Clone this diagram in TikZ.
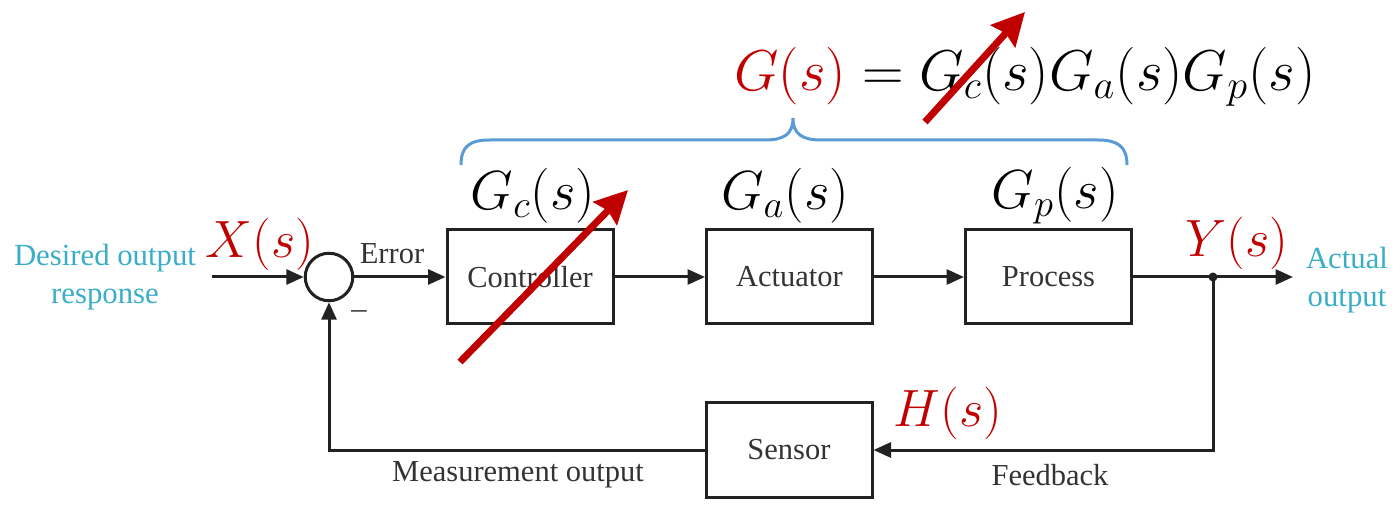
\documentclass[tikz,border=0pt]{standalone}
\usepackage{fix-cm}
\usepackage{fontspec}
\setmainfont{Liberation Serif}
\usetikzlibrary{arrows.meta}
\definecolor{linegray}{HTML}{222222}
\definecolor{textgray}{HTML}{333333}
\definecolor{sigcyan}{HTML}{3AAEC6}
\definecolor{markred}{HTML}{C00000}
\definecolor{bracecol}{HTML}{5B9BD5}
\begin{document}
\begin{tikzpicture}[x=0.4pt,y=-0.4pt,
  wire/.style={draw=linegray,line width=1.2pt},
  tip/.style={-{Triangle[length=7pt,width=6pt]}},
  block/.style={draw=linegray,line width=1.2pt,minimum width=66.4pt,
    minimum height=37.6pt,inner sep=0pt,text=textgray,
    font=\fontsize{12.2}{14}\selectfont},
  plain/.style={text=textgray,inner sep=0pt,font=\fontsize{12.2}{14}\selectfont},
  signal/.style={text=sigcyan,inner sep=0pt,align=center,
    font=\fontsize{12.3}{15}\selectfont},
  tf/.style={inner sep=0pt,font=\fontsize{22}{26}\selectfont},
  redtf/.style={inner sep=0pt,font=\fontsize{21}{25}\selectfont,text=markred},
  brace/.style={draw=bracecol,line width=1.2pt},
  redarrow/.style={draw=markred,line width=2.8pt,
    -{Stealth[length=13pt,width=13pt,inset=1.5pt]}}]
\useasboundingbox (0,0) rectangle (1393,505);

% forward path blocks
\node[block] (ctrl) at (530,277) {Controller};
\node[block] (act)  at (789.5,277) {Actuator};
\node[block] (proc) at (1048.5,277) {Process};
\node[block] (sens) at (789,450) {Sensor};
\node[circle,draw=linegray,line width=1.2pt,minimum size=19pt,inner sep=0pt] (sum) at (329,277) {};

\coordinate (in) at (212,277);
\coordinate (out) at (1293,277);
\coordinate (branch) at (1213,277);

% connectors
\draw[wire,tip] (in) -- (sum.west);
\draw[wire,tip] (sum.east) -- (ctrl.west);
\draw[wire,tip] (ctrl.east) -- (act.west);
\draw[wire,tip] (act.east) -- (proc.west);
\draw[wire,tip] (proc.east) -- (out);
\fill[linegray] (branch) circle (1.8pt);
\draw[wire,tip] (branch) |- (sens.east);
\draw[wire,tip] (sens.west) -| (sum.south);

% signal names
\node[signal] (desired) at (105,277) {Desired output\\response};
\node[signal] (actual) at (1347,280) {Actual\\output};
\node[plain] (err) at (392,254) {Error};
\node[plain] (minus) at (359,315) {--};
\node[plain] (meas) at (518,475) {Measurement output};
\node[plain] (fb) at (1050,475) {Feedback};

% transfer functions
\node[tf] (gc) at (533,196) {$G_c(s)$};
\node[tf] (ga) at (785,196) {$G_a(s)$};
\node[tf] (gp) at (1055,196) {$G_p(s)$};
\node[redtf] (xs) at (260,244) {$X(s)$};
\node[redtf] (ys) at (1237,243) {$Y(s)$};
\node[redtf] (hs) at (948,413) {$H(s)$};
\node[inner sep=0pt,font=\fontsize{23}{27}\selectfont] (formula) at (1025,77)
  {$\textcolor{markred}{G(s)} = G_c(s)G_a(s)G_p(s)$};

% brace over the three forward blocks
\draw[brace] (461,165) .. controls (461,146) and (470,140) .. (490,140)
  -- (765,140) .. controls (784,140) and (793,134) .. (793,118)
  .. controls (793,134) and (802,140) .. (821,140)
  -- (1098,140) .. controls (1117,140) and (1127,146) .. (1127,165);

% red marks
\coordinate (r1a) at (460,362);
\coordinate (r1b) at (628,190);
\coordinate (r2a) at (925,122);
\coordinate (r2b) at (1025,12);
\draw[redarrow] (r1a) -- (r1b);
\draw[redarrow] (r2a) -- (r2b);
\end{tikzpicture}
\end{document}
